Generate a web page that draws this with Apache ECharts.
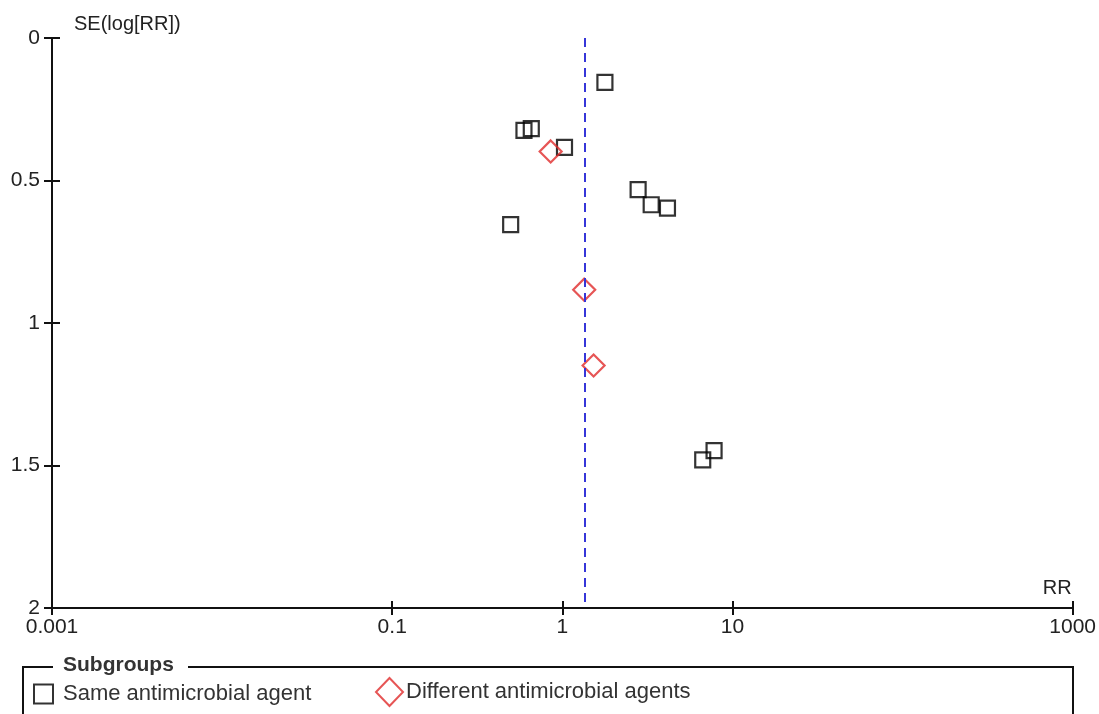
<!DOCTYPE html>
<html>
<head>
<meta charset="utf-8">
<script src="https://cdn.jsdelivr.net/npm/echarts@6/dist/echarts.min.js"></script>
<style>
html,body{margin:0;padding:0;background:#fff;}
#main{width:1099px;height:714px;}
</style>
</head>
<body>
<div id="main"></div>
<script>
// RR values (x) and SE(log[RR]) values (y)
var same_rr = [1.78, 0.595, 0.657, 1.03, 2.79, 3.33, 4.15, 0.497, 6.69, 7.80];
var same_se = [0.156, 0.324, 0.318, 0.384, 0.532, 0.585, 0.597, 0.655, 1.480, 1.448];
var diff_rr = [0.854, 1.345, 1.527];
var diff_se = [0.398, 0.883, 1.149];
var pooled_rr = 1.36;
var x_ticks = [0.001, 0.1, 1, 10, 1000];
var y_ticks = [0, 0.5, 1, 1.5, 2];

var same_data = [];
for (var i = 0; i < same_rr.length; i++) same_data.push([same_rr[i], same_se[i]]);
var diff_data = [];
for (var j = 0; j < diff_rr.length; j++) diff_data.push([diff_rr[j], diff_se[j]]);

var font = 'Liberation Sans, Arial, sans-serif';
var chart = echarts.init(document.getElementById('main'));
var option = {
	animation: false,
	grid: {left: 52, right: 25, top: 38, bottom: 106, containLabel: false},
	xAxis: [
		{
			type: 'log',
			logBase: 10,
			min: 0.001,
			max: 1000,
			position: 'bottom',
			name: 'RR',
			nameLocation: 'end',
			nameGap: -1,
			nameTextStyle: {color: '#222', fontSize: 20, fontFamily: font, align: 'right', verticalAlign: 'bottom', padding: [0, 0, 10, 0]},
			axisLine: {onZero: false, lineStyle: {color: '#111', width: 2}},
			axisTick: {show: true, length: 7, lineStyle: {color: '#111', width: 2}, customValues: x_ticks},
			axisLabel: {color: '#222', fontSize: 21, fontFamily: font, margin: 9, customValues: x_ticks,
				formatter: function (v) { return String(+v.toPrecision(6)); }},
			splitLine: {show: false},
			minorTick: {show: false}
		},
		{
			type: 'log',
			logBase: 10,
			min: 0.001,
			max: 1000,
			position: 'bottom',
			axisLine: {show: false, onZero: false},
			axisTick: {show: true, inside: true, length: 7, lineStyle: {color: '#111', width: 2}, customValues: x_ticks},
			axisLabel: {show: false},
			splitLine: {show: false}
		}
	],
	yAxis: [
		{
			type: 'value',
			inverse: true,
			min: 0,
			max: 2,
			interval: 0.5,
			name: 'SE(log[RR])',
			nameLocation: 'start',
			nameGap: 14,
			nameTextStyle: {color: '#222', fontSize: 20, fontFamily: font, align: 'left', verticalAlign: 'middle', padding: [0, 0, 0, 22]},
			axisLine: {show: true, onZero: false, lineStyle: {color: '#111', width: 2}},
			axisTick: {show: true, length: 8, lineStyle: {color: '#111', width: 2}},
			axisLabel: {color: '#222', fontSize: 21, fontFamily: font, margin: 12,
				formatter: function (v) { return String(v); }},
			splitLine: {show: false}
		},
		{
			type: 'value',
			inverse: true,
			min: 0,
			max: 2,
			interval: 0.5,
			position: 'left',
			axisLine: {show: false, onZero: false},
			axisTick: {show: true, inside: true, length: 8, lineStyle: {color: '#111', width: 2}},
			axisLabel: {show: false},
			splitLine: {show: false}
		}
	],
	legend: [
		{
			left: 33,
			top: 683,
			padding: 0,
			itemWidth: 19,
			itemHeight: 19,
			selectedMode: false,
			textStyle: {color: '#333', fontSize: 22, fontFamily: font, padding: [0, 0, 0, 5]},
			data: ['Same antimicrobial agent']
		},
		{
			left: 375,
			top: 677,
			padding: 0,
			itemWidth: 27,
			itemHeight: 28,
			selectedMode: false,
			textStyle: {color: '#333', fontSize: 22, fontFamily: font, padding: [0, 0, 0, -2]},
			data: ['Different antimicrobial agents']
		}
	],
	graphic: [
		{
			type: 'polyline',
			silent: true,
			shape: {points: [[23, 720], [23, 667], [53, 667]]},
			style: {stroke: '#111', lineWidth: 2, fill: null}
		},
		{
			type: 'polyline',
			silent: true,
			shape: {points: [[188, 667], [1073, 667], [1073, 720]]},
			style: {stroke: '#111', lineWidth: 2, fill: null}
		},
		{
			type: 'text',
			silent: true,
			left: 63,
			top: 655,
			style: {text: 'Subgroups', fill: '#333', font: 'bold 21px ' + font}
		}
	],
	series: [
		{
			name: 'Same antimicrobial agent',
			type: 'scatter',
			symbol: 'rect',
			symbolSize: 15,
			itemStyle: {color: 'rgba(255,255,255,0)', borderColor: '#000', borderWidth: 2.2},
			data: same_data,
			z: 3,
			markLine: {
				silent: true,
				symbol: ['none', 'none'],
				label: {show: false},
				lineStyle: {color: '#3636d8', width: 2, type: [9, 6]},
				data: [[{coord: [pooled_rr, 0]}, {coord: [pooled_rr, 2]}]]
			}
		},
		{
			name: 'Different antimicrobial agents',
			type: 'scatter',
			symbol: 'diamond',
			symbolSize: [22, 22],
			itemStyle: {color: 'rgba(255,255,255,0)', borderColor: '#e02a2a', borderWidth: 2.2},
			data: diff_data,
			z: 4
		}
	]
};
chart.setOption(option);
</script>
</body>
</html>
